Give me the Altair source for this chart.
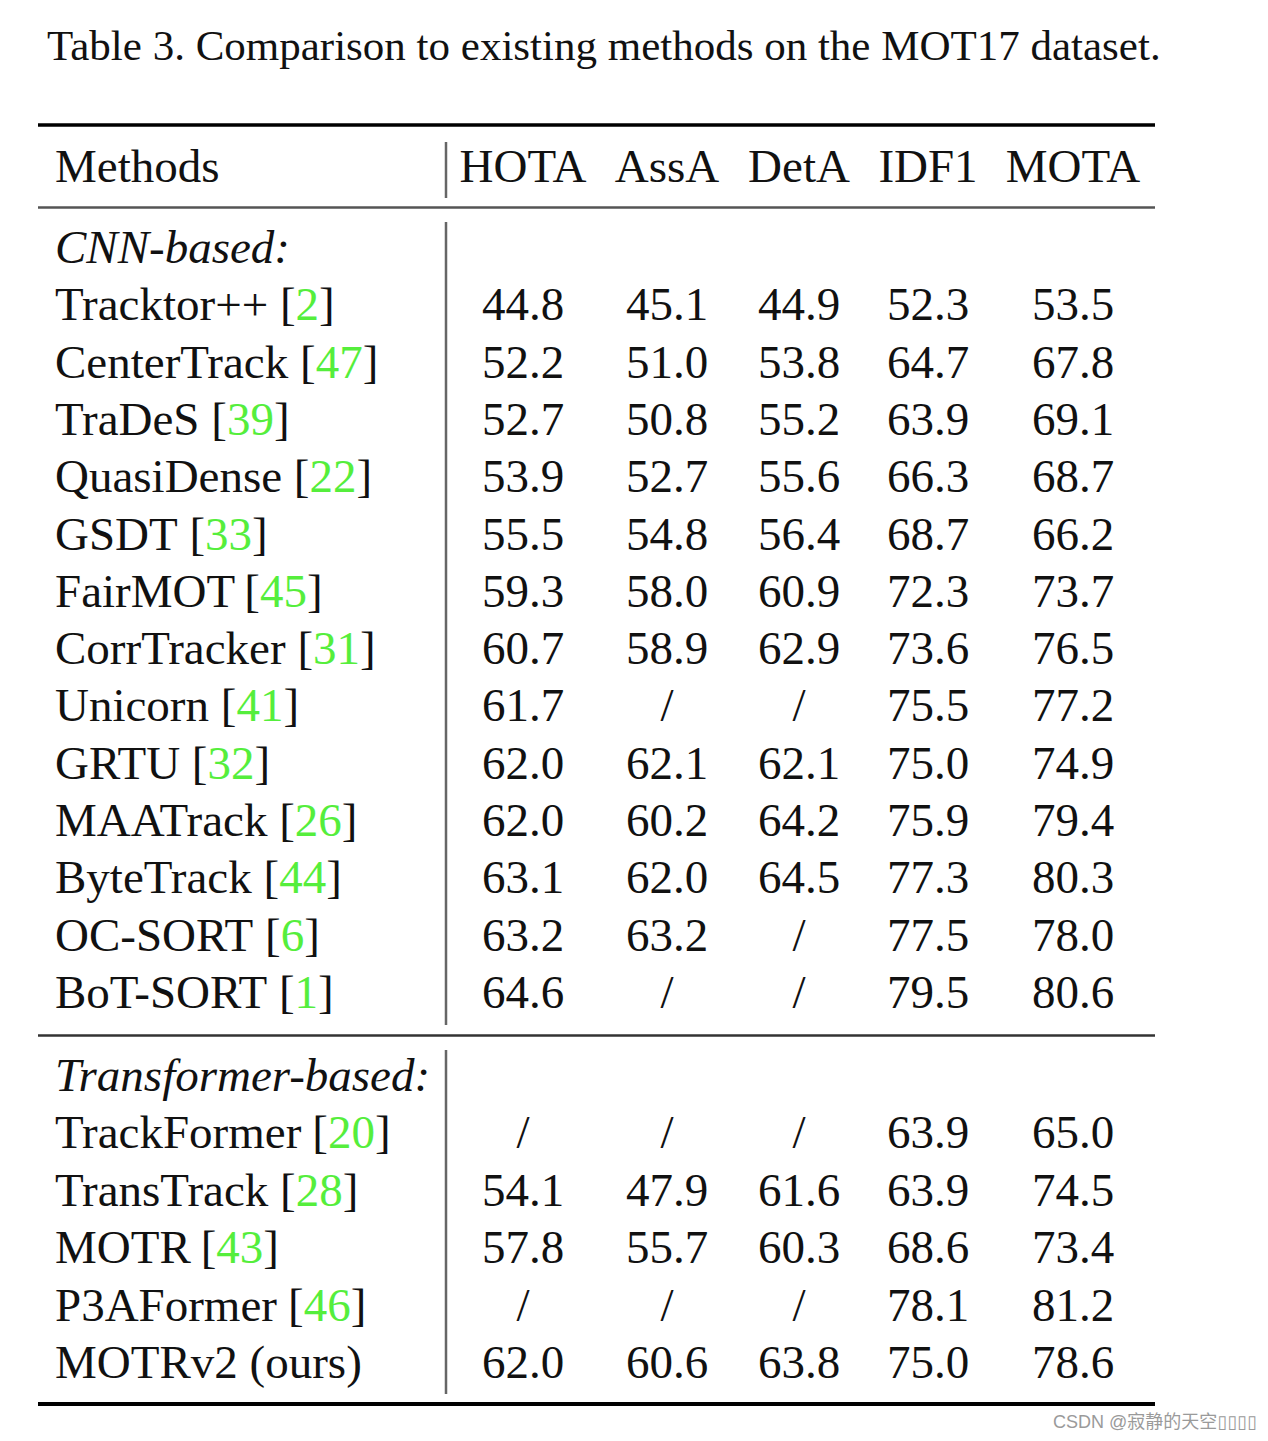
import altair as alt
import pandas as pd

# ---------------- data ----------------
caption = "Table 3. Comparison to existing methods on the MOT17 dataset."
header_method = "Methods"
metrics = ["HOTA", "AssA", "DetA", "IDF1", "MOTA"]

cnn_label = "CNN-based:"
cnn_methods = ["Tracktor++", "CenterTrack", "TraDeS", "QuasiDense", "GSDT", "FairMOT",
               "CorrTracker", "Unicorn", "GRTU", "MAATrack", "ByteTrack", "OC-SORT", "BoT-SORT"]
cnn_refs = ["2", "47", "39", "22", "33", "45", "31", "41", "32", "26", "44", "6", "1"]
cnn_hota = [44.8, 52.2, 52.7, 53.9, 55.5, 59.3, 60.7, 61.7, 62.0, 62.0, 63.1, 63.2, 64.6]
cnn_assa = [45.1, 51.0, 50.8, 52.7, 54.8, 58.0, 58.9, None, 62.1, 60.2, 62.0, 63.2, None]
cnn_deta = [44.9, 53.8, 55.2, 55.6, 56.4, 60.9, 62.9, None, 62.1, 64.2, 64.5, None, None]
cnn_idf1 = [52.3, 64.7, 63.9, 66.3, 68.7, 72.3, 73.6, 75.5, 75.0, 75.9, 77.3, 77.5, 79.5]
cnn_mota = [53.5, 67.8, 69.1, 68.7, 66.2, 73.7, 76.5, 77.2, 74.9, 79.4, 80.3, 78.0, 80.6]

tr_label = "Transformer-based:"
tr_methods = ["TrackFormer", "TransTrack", "MOTR", "P3AFormer", "MOTRv2 (ours)"]
tr_refs = ["20", "28", "43", "46", None]
tr_hota = [None, 54.1, 57.8, None, 62.0]
tr_assa = [None, 47.9, 55.7, None, 60.6]
tr_deta = [None, 61.6, 60.3, None, 63.8]
tr_idf1 = [63.9, 63.9, 68.6, 78.1, 75.0]
tr_mota = [65.0, 74.5, 73.4, 81.2, 78.6]

watermark = "CSDN @寂静的天空\u25af\u25af\u25af\u25af"

# ---------------- layout ----------------
W, H, OFF = 1252, 1425, 8
SERIF = "Liberation Serif"
FS = 47
col_x = [523, 667, 799, 928, 1073]
name_x = 55
header_y = 182
cnn_label_y = 263
tr_label_y = 1091
pitch_cnn = 57.3
pitch_tr = 57.4
GREEN = "#55ee3c"
INK = "#111111"

# advance widths (em) of Liberation Serif (Times-compatible metrics), used to place citations
ADV = {" ": .25, "[": .333, "]": .333, "+": .564, "-": .333, "(": .333, ")": .333,
       "T": .611, "r": .333, "a": .444, "c": .444, "k": .5, "t": .278, "o": .5,
       "C": .667, "e": .444, "n": .5, "D": .722, "S": .556, "Q": .722, "u": .5,
       "s": .389, "i": .278, "G": .722, "F": .556, "M": .889, "O": .722, "U": .722,
       "R": .667, "A": .722, "B": .667, "y": .5, "P": .556, "m": .778, "v": .5}
for d in "0123456789":
    ADV[d] = .5
# approximate kerning pairs (em)
KERN = {"AT": -.111, "Tr": -.035, "Ta": -.080, "Te": -.070, "To": -.080, "T-": -.092,
        "RT": -.060, "OT": -.040, "Fa": -.015, "Fo": -.015}


def tw(s, size=FS):
    w = sum(ADV.get(ch, .5) for ch in s)
    w += sum(KERN.get(s[i:i + 2], 0) for i in range(len(s) - 1))
    return size * w


xs = alt.Scale(domain=[OFF, OFF + W], nice=False, zero=False)
ys = alt.Scale(domain=[OFF, OFF + H], nice=False, zero=False, reverse=True)


def txt(df, **kw):
    base = dict(font=SERIF, fontSize=FS, baseline="alphabetic", color=INK)
    base.update(kw)
    return alt.Chart(df).mark_text(**base).encode(
        x=alt.X("x:Q", scale=xs, axis=None),
        y=alt.Y("y:Q", scale=ys, axis=None),
        text=alt.Text("t:N"),
    )


def fmt(v):
    return "/" if v is None else f"{v:.1f}"


names_rows = []
brackets = []
greens = []
cells = []
sections = [
    (cnn_methods, cnn_refs, [cnn_hota, cnn_assa, cnn_deta, cnn_idf1, cnn_mota], cnn_label_y, pitch_cnn),
    (tr_methods, tr_refs, [tr_hota, tr_assa, tr_deta, tr_idf1, tr_mota], tr_label_y, pitch_tr),
]
for names, refs, cols, y0, p in sections:
    for i, (n, r) in enumerate(zip(names, refs)):
        y = y0 + (i + 1) * p
        names_rows.append(dict(x=name_x, y=y, t=n))
        if r is not None:
            bx = name_x + tw(n + " ")
            brackets.append(dict(x=bx, y=y, t="["))
            greens.append(dict(x=bx + tw("["), y=y, t=r))
            brackets.append(dict(x=bx + tw("[" + r), y=y, t="]"))
        for cx, col in zip(col_x, cols):
            cells.append(dict(x=cx, y=y, t=fmt(col[i])))

layers = []
# caption
layers.append(txt(pd.DataFrame([dict(x=47, y=60, t=caption)]), fontSize=43, align="left"))
# header
layers.append(txt(pd.DataFrame([dict(x=name_x, y=header_y, t=header_method)]), align="left"))
layers.append(txt(pd.DataFrame([dict(x=cx, y=header_y, t=m) for cx, m in zip(col_x, metrics)]), align="center"))
# section labels
layers.append(txt(pd.DataFrame([dict(x=name_x, y=cnn_label_y, t=cnn_label),
                                dict(x=name_x, y=tr_label_y, t=tr_label)]), align="left", fontStyle="italic"))
# method names with citations
layers.append(txt(pd.DataFrame(names_rows), align="left"))
layers.append(txt(pd.DataFrame(brackets), align="left"))
layers.append(txt(pd.DataFrame(greens), align="left", color=GREEN))
# values
layers.append(txt(pd.DataFrame(cells), align="center"))

# rules
hrules = pd.DataFrame([
    dict(x=38, x2=1155, y=125, c="#000000", w=3.5),
    dict(x=38, x2=1155, y=207.5, c="#555555", w=2.5),
    dict(x=38, x2=1155, y=1035.5, c="#333333", w=2.5),
    dict(x=38, x2=1155, y=1404, c="#000000", w=4),
])
layers.append(alt.Chart(hrules).mark_rule(strokeCap="butt").encode(
    x=alt.X("x:Q", scale=xs, axis=None), x2="x2:Q",
    y=alt.Y("y:Q", scale=ys, axis=None),
    color=alt.Color("c:N", scale=None),
    strokeWidth=alt.StrokeWidth("w:Q", scale=None),
))
vrules = pd.DataFrame([
    dict(x=446, y=142, y2=198),
    dict(x=446, y=222, y2=1025),
    dict(x=446, y=1050, y2=1394),
])
layers.append(alt.Chart(vrules).mark_rule(strokeCap="butt", color="#666666", strokeWidth=2.5).encode(
    x=alt.X("x:Q", scale=xs, axis=None),
    y=alt.Y("y:Q", scale=ys, axis=None), y2="y2:Q",
))
# watermark
layers.append(txt(pd.DataFrame([dict(x=1053, y=1428, t=watermark)]),
                  font="Liberation Sans, Noto Sans CJK SC, DejaVu Sans", fontSize=18,
                  color="#9a9a9a", align="left"))

chart = alt.layer(*layers).properties(
    width=W, height=H, padding=0, background="white",
    autosize=alt.AutoSizeParams(type="none"),
).configure_view(stroke=None)

chart.save("out.html", embed_options={"renderer": "svg", "actions": False})
